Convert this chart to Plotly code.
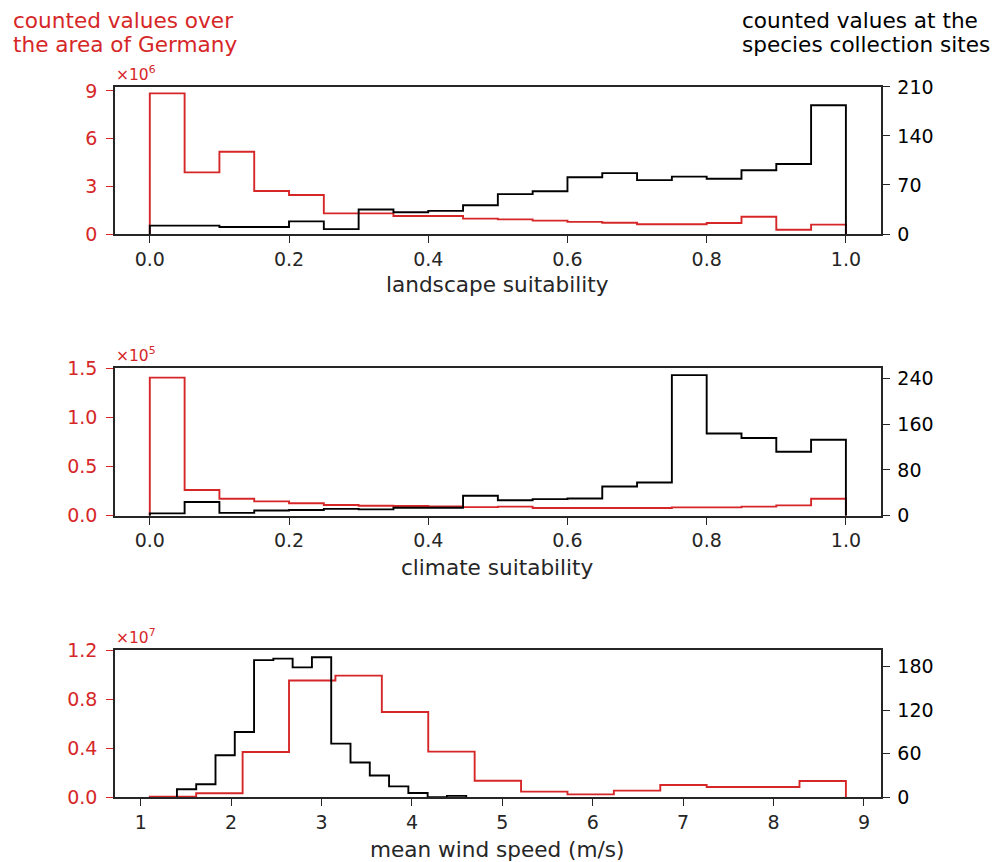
import numpy as np
import plotly.graph_objects as go

# ---------------- data ----------------
# landscape suitability: 20 bins on [0, 1]
land_edges = np.linspace(0.0, 1.0, 21)
land_germany = [8.85e6, 3.88e6, 5.18e6, 2.71e6, 2.45e6, 1.30e6, 1.30e6, 1.13e6, 1.13e6, 0.97e6,
                0.92e6, 0.84e6, 0.76e6, 0.71e6, 0.61e6, 0.61e6, 0.69e6, 1.09e6, 0.27e6, 0.59e6]
land_sites = [12, 12, 10, 10, 18, 7, 35, 31, 33, 41, 57, 61, 81, 87, 77, 82, 79, 91, 100, 184]

# climate suitability: 20 bins on [0, 1]
clim_edges = np.linspace(0.0, 1.0, 21)
clim_germany = [1.405e5, 0.261e5, 0.173e5, 0.146e5, 0.126e5, 0.109e5, 0.102e5, 0.098e5, 0.095e5, 0.087e5,
                0.092e5, 0.078e5, 0.078e5, 0.078e5, 0.078e5, 0.085e5, 0.085e5, 0.092e5, 0.105e5, 0.173e5]
clim_sites = [4, 24, 5, 9, 10, 12, 11, 14, 14, 35, 27, 29, 30, 51, 58, 246, 144, 136, 112, 133]

# mean wind speed: 15 bins each
wind_germany_edges = np.linspace(1.1, 8.8, 16)
wind_germany = [0.005e7, 0.033e7, 0.369e7, 0.951e7, 0.991e7, 0.695e7, 0.372e7, 0.135e7,
                0.046e7, 0.024e7, 0.054e7, 0.100e7, 0.084e7, 0.084e7, 0.133e7]
wind_sites_edges = np.linspace(1.4, 4.6, 16)
wind_sites = [11, 18, 58, 90, 189, 191, 179, 193, 74, 48, 30, 15, 6, 0, 2]

x_titles = ["landscape suitability", "climate suitability", "mean wind speed (m/s)"]
left_ticks = [[0, 3e6, 6e6, 9e6], [0, 0.5e5, 1.0e5, 1.5e5], [0, 0.4e7, 0.8e7, 1.2e7]]
left_ticktext = [["0", "3", "6", "9"], ["0.0", "0.5", "1.0", "1.5"], ["0.0", "0.4", "0.8", "1.2"]]
left_exp = ["6", "5", "7"]
right_ticks = [[0, 70, 140, 210], [0, 80, 160, 240], [0, 60, 120, 180]]

# ---------------- layout helpers ----------------
W, H = 992, 862
RED = "#d62728"
DARK = "#262626"
FONT = "DejaVu Sans"


def px(x):
    return x / W


def py(y):
    return 1 - y / H


# axes boxes in pixels: (left, right, top, bottom)
boxes = [(115, 880.7, 86.7, 234.0), (115, 880.7, 368.3, 515.7), (115, 880.7, 650.0, 797.3)]
x_ranges = [[-0.05, 1.05], [-0.05, 1.05], [0.715, 9.185]]
left_ranges = [[0, 9.27e6], [0, 1.5e5], [0, 1.2e7]]
right_ranges = [[0, 210.4], [0, 258.0], [0, 202.9]]
x_tickvals = [[0, 0.2, 0.4, 0.6, 0.8, 1.0], [0, 0.2, 0.4, 0.6, 0.8, 1.0], [1, 2, 3, 4, 5, 6, 7, 8, 9]]
x_ticktext = [["0.0", "0.2", "0.4", "0.6", "0.8", "1.0"], ["0.0", "0.2", "0.4", "0.6", "0.8", "1.0"],
              [str(v) for v in range(1, 10)]]
title_y = [285, 567, 849]

panels = [
    (land_edges, land_germany, land_edges, land_sites),
    (clim_edges, clim_germany, clim_edges, clim_sites),
    (wind_germany_edges, wind_germany, wind_sites_edges, wind_sites),
]


def step_xy(edges, vals):
    edges = list(edges)
    xs = [edges[0]] + edges[:-1] + [edges[-1]]
    ys = [0] + list(vals) + [0]
    return xs, ys


fig = go.Figure()
annotations = []
layout = {}

for i, (e_red, v_red, e_blk, v_blk) in enumerate(panels):
    xa = "x" if i == 0 else f"x{i + 1}"
    ya_l = "y" if i == 0 else f"y{2 * i + 1}"
    ya_r = f"y{2 * i + 2}"
    xs, ys = step_xy(e_red, v_red)
    fig.add_trace(go.Scatter(x=xs, y=ys, mode="lines", line=dict(color=RED, width=1.9, shape="hv"),
                             xaxis=xa, yaxis=ya_l, showlegend=False, hoverinfo="skip"))
    xs, ys = step_xy(e_blk, v_blk)
    fig.add_trace(go.Scatter(x=xs, y=ys, mode="lines", line=dict(color="black", width=1.9, shape="hv"),
                             xaxis=xa, yaxis=ya_r, showlegend=False, hoverinfo="skip"))

    l, r, t, b = boxes[i]
    xkey = "xaxis" if i == 0 else f"xaxis{i + 1}"
    ylkey = "yaxis" if i == 0 else f"yaxis{2 * i + 1}"
    yrkey = f"yaxis{2 * i + 2}"
    layout[xkey] = dict(domain=[px(l), px(r)], anchor=ya_l, range=x_ranges[i],
                        tickmode="array", tickvals=x_tickvals[i], ticktext=x_ticktext[i],
                        showline=True, mirror=True, linecolor=DARK, linewidth=1.6,
                        ticks="outside", ticklen=7, tickwidth=1.4, tickcolor=DARK,
                        tickfont=dict(family=FONT, size=19, color=DARK),
                        showgrid=False, zeroline=False, fixedrange=True)
    layout[ylkey] = dict(domain=[py(b), py(t)], anchor=xa, range=left_ranges[i],
                         tickmode="array", tickvals=left_ticks[i], ticktext=left_ticktext[i],
                         showline=True, linecolor=DARK, linewidth=1.6,
                         ticks="outside", ticklen=7, tickwidth=1.4, tickcolor=RED,
                         tickfont=dict(family=FONT, size=19, color=RED), ticklabelstandoff=5,
                         showgrid=False, zeroline=False, fixedrange=True)
    layout[yrkey] = dict(overlaying=ya_l, side="right", anchor=xa, range=right_ranges[i],
                         tickmode="array", tickvals=right_ticks[i],
                         ticktext=[str(v) for v in right_ticks[i]],
                         showline=True, linecolor=DARK, linewidth=1.6,
                         ticks="outside", ticklen=7, tickwidth=1.4, tickcolor=DARK,
                         tickfont=dict(family=FONT, size=19, color="black"), ticklabelstandoff=4,
                         showgrid=False, zeroline=False, fixedrange=True)

    annotations.append(dict(text=x_titles[i], x=px((l + r) / 2), y=py(title_y[i]), xref="paper", yref="paper",
                            xanchor="center", yanchor="middle", showarrow=False,
                            font=dict(family=FONT, size=21.6, color=DARK)))
    annotations.append(dict(text=f"×10<sup>{left_exp[i]}</sup>", x=px(l - 1), y=py(t - 1),
                            xref="paper", yref="paper", xanchor="left", yanchor="bottom", showarrow=False,
                            font=dict(family=FONT, size=15.5, color=RED)))

for txt, yy in [("counted values over", 20), ("the area of Germany", 45)]:
    annotations.append(dict(text=txt, x=px(10.5), y=py(yy), xref="paper", yref="paper",
                            xanchor="left", yanchor="middle", showarrow=False,
                            font=dict(family=FONT, size=21.6, color=RED)))
for txt, yy in [("counted values at the", 20), ("species collection sites", 45)]:
    annotations.append(dict(text=txt, x=px(739.5), y=py(yy), xref="paper", yref="paper",
                            xanchor="left", yanchor="middle", showarrow=False,
                            font=dict(family=FONT, size=21.6, color="black")))

fig.update_layout(width=W, height=H, margin=dict(l=0, r=0, t=0, b=0, autoexpand=False),
                  paper_bgcolor="white", plot_bgcolor="white", annotations=annotations,
                  font=dict(family=FONT), **layout)

fig.write_html("out.html")
